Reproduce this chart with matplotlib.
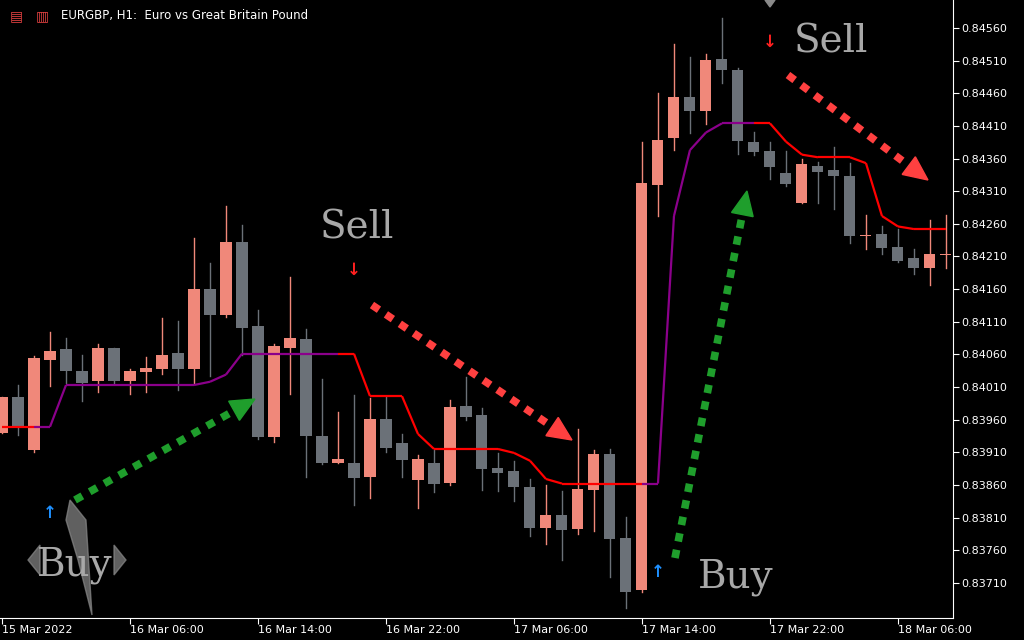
import matplotlib
matplotlib.use("Agg")
import matplotlib.pyplot as plt
from matplotlib.patches import Polygon
import math

opens = [.83940,.83995,.83914,.84052,.84068,.84035,.84019,.84070,.84019,.84033,
         .84038,.84062,.84038,.84160,.84120,.84232,.84104,.83934,.84070,.84084,
         .83935,.83894,.83894,.83872,.83961,.83924,.83868,.83894,.83863,.83981,
         .83967,.83886,.83882,.83857,.83794,.83814,.83793,.83852,.83908,.83779,
         .83699,.84319,.84391,.84454,.84433,.84513,.84495,.84386,.84371,.84338,
         .84292,.84348,.84342,.84334,.84242,.84244,.84224,.84207,.84192,.84213]
closes = [.83995,.83949,.84055,.84065,.84035,.84016,.84070,.84019,.84035,.84039,
          .84059,.84038,.84160,.84120,.84232,.84101,.83934,.84073,.84085,.83935,
          .83894,.83900,.83871,.83961,.83917,.83898,.83900,.83862,.83979,.83964,
          .83885,.83878,.83856,.83794,.83814,.83791,.83854,.83908,.83777,.83696,
          .84322,.84389,.84454,.84433,.84511,.84495,.84387,.84370,.84347,.84321,
          .84351,.84340,.84334,.84242,.84243,.84223,.84203,.84192,.84214,.84214]
highs = [.83995,.84013,.84058,.84094,.84085,.84059,.84076,.84070,.84038,.84056,
         .84116,.84111,.84238,.84200,.84287,.84258,.84128,.84076,.84179,.84099,
         .84022,.83972,.83998,.83993,.83995,.83938,.83906,.83914,.83990,.84025,
         .83978,.83909,.83897,.83869,.83860,.83851,.83946,.83914,.83915,.83811,
         .84386,.84461,.84535,.84515,.84521,.84576,.84499,.84401,.84386,.84371,
         .84360,.84354,.84377,.84353,.84273,.84256,.84252,.84221,.84266,.84274]
lows = [.83940,.83937,.83911,.84012,.84016,.83989,.84003,.84016,.83999,.84003,
        .84030,.84006,.84016,.84027,.84117,.84059,.83931,.83926,.83999,.83872,
        .83892,.83894,.83829,.83840,.83911,.83872,.83825,.83849,.83860,.83960,
        .83852,.83851,.83836,.83782,.83770,.83745,.83784,.83790,.83719,.83672,
        .83696,.84272,.84373,.84399,.84413,.84476,.84367,.84366,.84328,.84318,
        .84292,.84292,.84282,.84231,.84222,.84214,.84201,.84183,.84167,.84192]
trail = [.83949,.83949,.83949,.83949,.84013,.84013,.84013,.84013,.84013,.84013,
         .84013,.84013,.84013,.84018,.84029,.84061,.84061,.84061,.84061,.84061,
         .84061,.84061,.84061,.83996,.83996,.83996,.83938,.83915,.83915,.83915,
         .83915,.83915,.83909,.83897,.83869,.83862,.83862,.83862,.83862,.83862,
         .83862,.83862,.84272,.84373,.84400,.84414,.84414,.84414,.84414,.84386,
         .84366,.84362,.84362,.84362,.84353,.84272,.84256,.84252,.84252,.84252]
trend = ['d']*2 + ['u']*19 + ['d']*19 + ['u']*7 + ['d']*13
buy_idx, buy_px = [3, 41], [.83817, .83727]
sell_idx, sell_px = [22, 48], [.84189, .84539]
price_ticks = [.84560,.84510,.84460,.84410,.84360,.84310,.84260,.84210,.84160,.84110,
               .84060,.84010,.83960,.83910,.83860,.83810,.83760,.83710]
time_idx = [0, 8, 16, 24, 32, 40, 48, 56]
time_lbl = ["15 Mar 2022","16 Mar 06:00","16 Mar 14:00","16 Mar 22:00",
            "17 Mar 06:00","17 Mar 14:00","17 Mar 22:00","18 Mar 06:00"]

UP, DN = '#F0887A', '#6B7178'
fig = plt.figure(figsize=(10.24, 6.4), dpi=100, facecolor='black')
ax = fig.add_axes([0, 22/640, 953/1024, 618/640], facecolor='black')
X0, X1 = -0.125, 59.44
Y0, Y1 = .83656, .84603
ax.set_xlim(X0, X1); ax.set_ylim(Y0, Y1)

for i in range(len(opens)):
    c = UP if closes[i] >= opens[i] else DN
    ax.plot([i, i], [lows[i], highs[i]], color=c, lw=1, zorder=2)
    lo, hi = min(opens[i], closes[i]), max(opens[i], closes[i])
    ax.bar(i, max(hi - lo, 0.000008), bottom=lo, width=0.69, color=c, zorder=3, linewidth=0)

for i in range(len(trail) - 1):
    ax.plot([i, i+1], [trail[i], trail[i+1]], color='#FF0000' if trend[i] == 'd' else '#8B008B',
            lw=1.6, zorder=4, solid_capstyle='butt')

for i, p in zip(buy_idx, buy_px):
    ax.text(i, p, '↑', color='#1E90FF', ha='center', va='center', fontsize=12, fontweight='bold')
for i, p in zip(sell_idx, sell_px):
    ax.text(i, p, '↓', color='#FF2020', ha='center', va='center', fontsize=12, fontweight='bold')

def px(x, y):
    return ((x - 2) / 16, Y1 - y / 618 * (Y1 - Y0))

def darrow(p0, p1, col):
    dx, dy = p1[0] - p0[0], p1[1] - p0[1]
    L = math.hypot(dx, dy); ux, uy = dx / L, dy / L
    hl, hw = 24, 11
    base = (p1[0] - ux * hl, p1[1] - uy * hl)
    a, b = px(*p0), px(base[0] + ux * 2, base[1] + uy * 2)
    ax.plot([a[0], b[0]], [a[1], b[1]], color=col, lw=5.5, dashes=(1.1, 1.1), zorder=5)
    tri = [px(*p1), px(base[0] - uy * hw, base[1] + ux * hw), px(base[0] + uy * hw, base[1] - ux * hw)]
    ax.add_patch(Polygon(tri, closed=True, color=col, zorder=6))

darrow((75, 500), (255, 399), '#1F9E2C')
darrow((675, 558), (747, 191), '#1F9E2C')
darrow((372, 305), (572, 440), '#FF4040')
darrow((788, 75), (928, 180), '#FF4040')

for (x, y, s) in [(357, 228, 'Sell'), (831, 42, 'Sell'), (75, 565, 'Buy'), (736, 577, 'Buy')]:
    ax.text(*px(x, y), s, color='#A8A8A8', fontsize=28, family='DejaVu Serif', ha='center', va='center', zorder=7)

# logo
ax.add_patch(Polygon([px(70, 500), px(86, 520), px(92, 615), px(78, 560), px(66, 520)], closed=True,
                     color='#8A8A8A', alpha=0.7, zorder=1))
ax.add_patch(Polygon([px(28, 560), px(40, 545), px(40, 575)], color='#8A8A8A', alpha=0.7))
ax.add_patch(Polygon([px(126, 560), px(114, 545), px(114, 575)], color='#8A8A8A', alpha=0.7))

ax.text(61/953, 1 - 16/618, 'EURGBP, H1:  Euro vs Great Britain Pound', transform=ax.transAxes,
        color='white', fontsize=8.5, va='center', ha='left')
ax.text(10/953, 1 - 16/618, '▤', transform=ax.transAxes, color='#E04040', fontsize=10, va='center')
ax.text(36/953, 1 - 16/618, '▥', transform=ax.transAxes, color='#E04040', fontsize=10, va='center')
ax.add_patch(Polygon([(765/953, 1), (775/953, 1), (770/953, 1 - 7/618)], transform=ax.transAxes,
                     color='#8A8A8A', clip_on=False))

for s in ['top', 'left']:
    ax.spines[s].set_visible(False)
for s in ['right', 'bottom']:
    ax.spines[s].set_color('white')
ax.yaxis.tick_right()
ax.set_yticks(price_ticks)
ax.set_yticklabels([f'{p:.5f}' for p in price_ticks])
ax.tick_params(axis='y', colors='white', labelsize=8, length=4, pad=2)
ax.set_xticks(time_idx)
ax.set_xticklabels(time_lbl)
for lab in ax.get_xticklabels():
    lab.set_horizontalalignment('left')
ax.tick_params(axis='x', colors='white', labelsize=8, length=4, pad=1)

fig.savefig('out.png', dpi=100, facecolor='black')
